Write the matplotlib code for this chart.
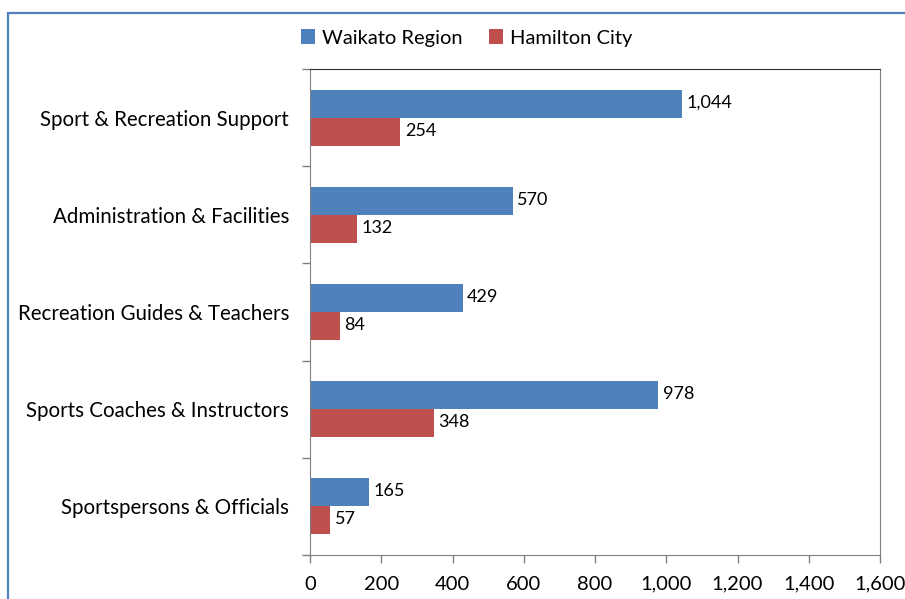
import matplotlib.pyplot as plt
import numpy as np
from matplotlib.patches import Rectangle

categories = ["Sport & Recreation Support", "Administration & Facilities",
              "Recreation Guides & Teachers", "Sports Coaches & Instructors",
              "Sportspersons & Officials"]
waikato = [1044, 570, 429, 978, 165]
hamilton = [254, 132, 84, 348, 57]
xticks = [0, 200, 400, 600, 800, 1000, 1200, 1400, 1600]

plt.rcParams['font.family'] = ['Lato', 'DejaVu Sans']

blue = '#4f81bd'
red = '#c0504d'

fig = plt.figure(figsize=(9.05, 5.99), dpi=100)
ax = fig.add_axes([310 / 905, 1 - 555 / 599, 570 / 905, 486 / 599])

# outer chart border
fig.patches.append(Rectangle((8 / 905, -0.1), 1.2, 1 - 13 / 599 + 0.1,
                             transform=fig.transFigure, fill=False,
                             edgecolor='#4f81bd', lw=1.6))

pos = np.arange(len(categories))[::-1]
h = 0.2875
b1 = ax.barh(pos + h / 2, waikato, height=h, color=blue, label='Waikato Region')
b2 = ax.barh(pos - h / 2, hamilton, height=h, color=red, label='Hamilton City')

for bars, vals in ((b1, waikato), (b2, hamilton)):
    for bar, v in zip(bars, vals):
        ax.text(v + 12, bar.get_y() + bar.get_height() / 2 + 0.01, "{:,}".format(v),
                va='center', ha='left', fontsize=13)

ax.set_xlim(0, 1600)
ax.set_ylim(-0.5, len(categories) - 0.5)
ax.set_xticks(xticks)
ax.set_xticklabels(["{:,}".format(t) for t in xticks], fontsize=14.5)
ax.set_yticks(pos)
ax.set_yticklabels(categories, fontsize=14.8)
ax.set_yticks(np.arange(-0.5, len(categories), 1), minor=True)
ax.tick_params(axis='y', which='major', length=0, pad=15)
ax.tick_params(axis='y', which='minor', length=6, color='#808080', width=1)
ax.tick_params(axis='x', length=6, color='#808080', width=1, pad=9)

for s in ('left', 'bottom', 'right'):
    ax.spines[s].set_color('#808080')
ax.spines['top'].set_color('#303030')

ax.legend(loc='center', bbox_to_anchor=(467 / 905, 1 - 38 / 599),
          bbox_transform=fig.transFigure, ncol=2, frameon=False, fontsize=14.5,
          handlelength=0.7, handleheight=0.7, handletextpad=0.35, columnspacing=1.3)

fig.savefig('out.png', dpi=100)
